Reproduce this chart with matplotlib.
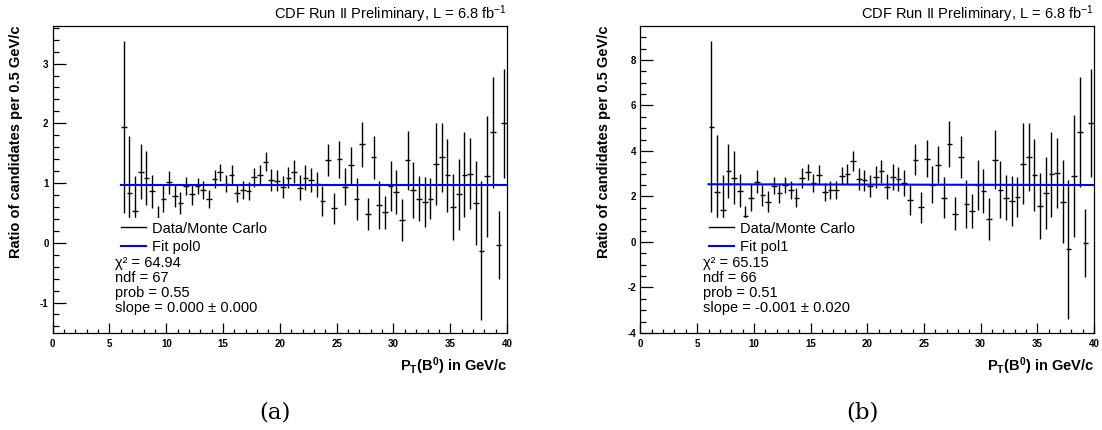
import matplotlib
matplotlib.use('Agg')
import matplotlib.pyplot as plt
from matplotlib.lines import Line2D
from matplotlib.ticker import MultipleLocator

plt.rcParams['font.family'] = ['Liberation Sans', 'DejaVu Sans']
plt.rcParams['mathtext.fontset'] = 'custom'
plt.rcParams['mathtext.rm'] = 'Liberation Sans'
plt.rcParams['mathtext.it'] = 'Liberation Sans:italic'
plt.rcParams['mathtext.bf'] = 'Liberation Sans:bold'

# bin centres of P_T(B0), 0.5 GeV/c bins from 6 to 40
pt_bins = [6.25, 6.75, 7.25, 7.75, 8.25, 8.75, 9.25, 9.75, 10.25, 10.75,
           11.25, 11.75, 12.25, 12.75, 13.25, 13.75, 14.25, 14.75, 15.25, 15.75,
           16.25, 16.75, 17.25, 17.75, 18.25, 18.75, 19.25, 19.75, 20.25, 20.75,
           21.25, 21.75, 22.25, 22.75, 23.25, 23.75, 24.25, 24.75, 25.25, 25.75,
           26.25, 26.75, 27.25, 27.75, 28.25, 28.75, 29.25, 29.75, 30.25, 30.75,
           31.25, 31.75, 32.25, 32.75, 33.25, 33.75, 34.25, 34.75, 35.25, 35.75,
           36.25, 36.75, 37.25, 37.75, 38.25, 38.75, 39.25, 39.75]
bin_half = 0.25

# (a) ratio and error
ratio_a = [1.94, 0.84, 0.53, 1.19, 1.08, 0.86, 0.42, 0.74, 1.01, 0.78,
           0.67, 0.95, 0.81, 0.95, 0.88, 0.74, 1.07, 1.18, 0.99, 1.13,
           0.84, 0.88, 0.86, 1.10, 1.14, 1.36, 1.05, 1.04, 0.93, 1.09,
           1.19, 0.92, 1.09, 1.05, 0.98, 0.70, 1.38, 0.58, 1.40, 0.94,
           1.30, 0.74, 1.65, 0.48, 1.43, 0.63, 0.51, 0.95, 0.85, 0.38,
           1.38, 0.88, 0.74, 0.68, 0.74, 1.32, 1.43, 1.13, 0.60, 0.81,
           1.14, 1.16, 0.67, -0.13, 1.11, 1.85, -0.03, 2.00]
err_a = [1.44, 0.95, 0.59, 0.46, 0.45, 0.28, 0.19, 0.23, 0.20, 0.18,
         0.18, 0.15, 0.17, 0.14, 0.15, 0.15, 0.15, 0.14, 0.14, 0.17,
         0.15, 0.15, 0.15, 0.16, 0.16, 0.16, 0.18, 0.18, 0.18, 0.18,
         0.19, 0.21, 0.21, 0.20, 0.21, 0.25, 0.27, 0.26, 0.31, 0.31,
         0.31, 0.35, 0.38, 0.27, 0.36, 0.40, 0.28, 0.42, 0.37, 0.35,
         0.50, 0.47, 0.37, 0.42, 0.34, 0.69, 0.58, 0.61, 0.55, 0.59,
         0.71, 0.59, 0.70, 1.17, 1.02, 0.93, 0.57, 0.91]

# (b) ratio and error
ratio_b = [5.07, 2.20, 1.40, 3.10, 2.83, 2.26, 1.14, 1.95, 2.64, 2.06,
           1.76, 2.48, 2.13, 2.49, 2.30, 1.95, 2.81, 3.08, 2.59, 2.96,
           2.20, 2.30, 2.27, 2.89, 2.97, 3.56, 2.76, 2.71, 2.45, 2.86,
           3.10, 2.42, 2.86, 2.76, 2.57, 1.84, 3.62, 1.52, 3.66, 2.52,
           3.40, 1.95, 4.31, 1.25, 3.73, 1.66, 1.36, 2.49, 2.23, 1.01,
           3.62, 2.30, 1.95, 1.79, 1.98, 3.44, 3.73, 2.96, 1.57, 2.16,
           2.97, 3.03, 1.76, -0.32, 2.90, 4.83, -0.06, 5.22]
err_b = [3.75, 2.48, 1.53, 1.19, 1.17, 0.73, 0.43, 0.58, 0.51, 0.46,
         0.46, 0.39, 0.43, 0.36, 0.40, 0.40, 0.42, 0.36, 0.39, 0.44,
         0.40, 0.40, 0.39, 0.40, 0.44, 0.44, 0.47, 0.47, 0.47, 0.47,
         0.51, 0.55, 0.56, 0.52, 0.57, 0.66, 0.70, 0.67, 0.82, 0.81,
         0.80, 0.91, 1.00, 0.71, 0.93, 1.06, 0.73, 1.09, 0.96, 0.91,
         1.31, 1.24, 0.98, 1.09, 0.89, 1.78, 1.51, 1.58, 1.44, 1.57,
         1.86, 1.52, 1.82, 3.06, 2.67, 2.43, 1.49, 2.36]

# fit results: constant term, slope
fit_a = [0.965, 0.0]
fit_b = [2.541, -0.001]
fit_range = [6.0, 40.0]

stats_a = ['χ² = 64.94', 'ndf = 67', 'prob = 0.55', 'slope = 0.000 ± 0.000']
stats_b = ['χ² = 65.15', 'ndf = 66', 'prob = 0.51', 'slope = -0.001 ± 0.020']

x_ticks = [0, 5, 10, 15, 20, 25, 30, 35, 40]
y_ticks_a = [-1, 0, 1, 2, 3]
y_ticks_b = [-4, -2, 0, 2, 4, 6, 8]


def drawPanel(ax, ratio, err, fit, fit_name, stats, ylim, yticks, yminor, caption, cap_x):
    ax.errorbar(pt_bins, ratio, yerr=err, xerr=bin_half, fmt='none',
                ecolor='black', elinewidth=1.0, capsize=0, zorder=2)
    fit_y = [fit[0] + fit[1] * x for x in fit_range]
    ax.plot(fit_range, fit_y, color='#0000ff', lw=1.5, zorder=3)

    ax.set_xlim(0, 40)
    ax.set_ylim(ylim)
    ax.set_xticks(x_ticks)
    ax.set_xticklabels([str(t) for t in x_ticks], fontweight='bold', fontsize=7)
    ax.set_yticks(yticks)
    ax.set_yticklabels([str(t) for t in yticks], fontweight='bold', fontsize=7)
    ax.xaxis.set_minor_locator(MultipleLocator(1))
    ax.yaxis.set_minor_locator(MultipleLocator(yminor))
    ax.tick_params(which='both', direction='in', top=False, right=False, width=0.9)
    ax.tick_params(axis='x', which='major', length=7, pad=4)
    ax.tick_params(axis='x', which='minor', length=3)
    ax.tick_params(axis='y', which='major', length=9.5, pad=3)
    ax.tick_params(axis='y', which='minor', length=4.5)
    for s in ax.spines.values():
        s.set_linewidth(0.9)

    ax.set_ylabel('Ratio of candidates per 0.5 GeV/c', fontsize=10.5,
                  fontweight='bold', loc='top', labelpad=12)
    ax.set_xlabel(r'P$_\mathbf{T}$(B$^\mathbf{0}$) in GeV/c', fontsize=10.5,
                  fontweight='bold', loc='right', labelpad=5)
    ax.text(1.0, 1.023, 'CDF Run II Preliminary, L = 6.8 fb$^{-1}$',
            transform=ax.transAxes, ha='right', va='baseline', fontsize=10.5)

    handles = [Line2D([], [], color='black', lw=1.0),
               Line2D([], [], color='#0000ff', lw=1.5)]
    ax.legend(handles, ['Data/Monte Carlo', fit_name], loc='upper left',
              bbox_to_anchor=(0.143, 0.375), frameon=True, fancybox=False,
              facecolor='white', edgecolor='white', framealpha=1, fontsize=10.5,
              handlelength=1.7, handletextpad=0.4, labelspacing=0.32,
              borderpad=0.25, borderaxespad=0)
    for k in range(len(stats)):
        ax.text(0.1375, 0.228 - 0.049 * k, stats[k], transform=ax.transAxes,
                ha='left', va='center', fontsize=10.5, zorder=6)

    ax.figure.text(cap_x, 0.04, caption, ha='center', va='center',
                   fontsize=16.5, family='DejaVu Serif')


fig = plt.figure(figsize=(11.02, 4.30), dpi=100)
ax_a = fig.add_axes([0.0478, 0.2256, 0.4123, 0.714])
ax_b = fig.add_axes([0.5812, 0.2256, 0.4115, 0.714])

drawPanel(ax_a, ratio_a, err_a, fit_a, 'Fit pol0', stats_a, (-1.51, 3.63),
          y_ticks_a, 0.2, '(a)', 0.2495)
drawPanel(ax_b, ratio_b, err_b, fit_b, 'Fit pol1', stats_b, (-4.0, 9.49),
          y_ticks_b, 0.5, '(b)', 0.7822)

fig.savefig('out.png', dpi=100)
